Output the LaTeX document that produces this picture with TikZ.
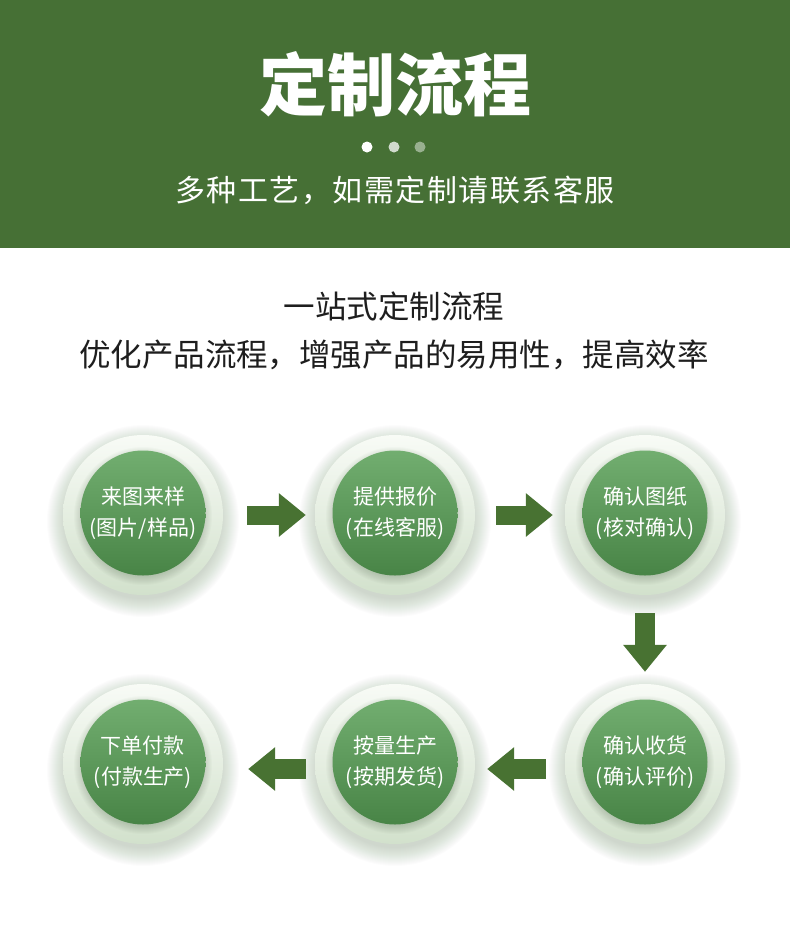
\documentclass[tikz,border=0pt]{standalone}
\usepackage{fontspec}
\setmainfont{Noto Sans CJK SC}
\usetikzlibrary{arrows.meta}
\definecolor{hdr}{RGB}{70,112,53}
\definecolor{arr}{RGB}{72,114,50}
\definecolor{coretop}{RGB}{114,174,112}
\definecolor{corebot}{RGB}{72,132,70}
\definecolor{ringtop}{RGB}{248,251,246}
\definecolor{ringbot}{RGB}{210,225,204}
\definecolor{shd}{RGB}{55,80,50}
\definecolor{txt}{RGB}{30,30,30}
\tikzset{
  ring/.style={circle, minimum size=160pt, inner sep=0pt, top color=ringtop, bottom color=ringbot, draw=none},
  core/.style={circle, minimum size=125pt, inner sep=0pt, top color=coretop, bottom color=corebot, draw=none,
    text=white, font=\fontsize{21}{31}\selectfont, align=center},
  flow/.style={draw=arr, line width=20pt, -{Triangle[width=42pt,length=27pt]}},
}
\begin{document}
\begin{tikzpicture}[x=1pt,y=-1pt]
\useasboundingbox (0,0) rectangle (790,930);
\fill[white] (0,0) rectangle (790,930);
\fill[hdr] (0,0) rectangle (790,248);
\node[font=\fontsize{68}{80}\selectfont\bfseries, text=white] (title) at (395,84) {定制流程};
\fill[white] (367,147) circle (5.5);
\fill[white!75!hdr] (394,147) circle (5.5);
\fill[white!45!hdr] (420,147) circle (5.5);
\node[font=\fontsize{30}{36}\selectfont\addfontfeature{LetterSpace=5}, text=white] (sub) at (395,190) {多种工艺，如需定制请联系客服};
\node[font=\fontsize{31.5}{38}\selectfont, text=txt] (h1) at (394,306) {一站式定制流程};
\node[font=\fontsize{31.5}{38}\selectfont, text=txt] (h2) at (394,355) {优化产品流程，增强产品的易用性，提高效率};

% soft glow / drop shadows behind the rings
\foreach \px/\py in {143/515,395/515,645/515,645/764,395/764,143/764}{
  \foreach \k in {0,...,18}
    \fill[shd, opacity=0.011] (\px,\py+6) circle (78+\k);
}

\node[ring] (r1) at (143,515) {};
\node[ring] (r2) at (395,515) {};
\node[ring] (r3) at (645,515) {};
\node[ring] (r4) at (645,764) {};
\node[ring] (r5) at (395,764) {};
\node[ring] (r6) at (143,764) {};

% shadows of the inner discs on the rings
\foreach \px/\py in {143/513,395/513,645/513,645/762,395/762,143/762}{
  \foreach \k in {0,...,8}
    \fill[shd, opacity=0.025] (\px,\py+3) circle (61+\k);
}

\node[core] (c1) at (143,513) {来图来样\\(图片/样品)};
\node[core] (c2) at (395,513) {提供报价\\(在线客服)};
\node[core] (c3) at (645,513) {确认图纸\\(核对确认)};
\node[core] (c4) at (645,762) {确认收货\\(确认评价)};
\node[core] (c5) at (395,762) {按量生产\\(按期发货)};
\node[core] (c6) at (143,762) {下单付款\\(付款生产)};

\draw[flow, line width=19pt, shorten <=24pt, shorten >=9pt] (r1.east) -- (r2.west);
\draw[flow, line width=19pt, shorten <=21pt, shorten >=12pt] (r2.east) -- (r3.west);
\draw[flow, shorten <=18pt, shorten >=12pt] (r3.south) -- (r4.north);
\draw[flow, shorten <=19pt, shorten >=12pt] ([yshift=-5pt]r4.west) -- ([yshift=-5pt]r5.east);
\draw[flow, shorten <=9pt, shorten >=25pt] ([yshift=-5pt]r5.west) -- ([yshift=-5pt]r6.east);
\end{tikzpicture}
\end{document}
